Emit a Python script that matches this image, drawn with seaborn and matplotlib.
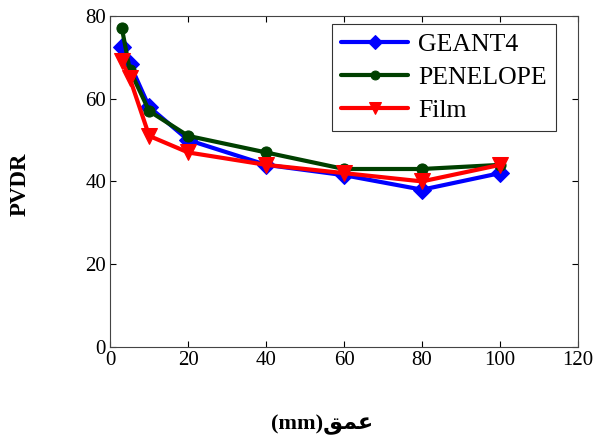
import numpy as np
import pandas as pd
import matplotlib
matplotlib.use("Agg")
import matplotlib.pyplot as plt
import seaborn as sns

depth = [3, 5, 10, 20, 40, 60, 80, 100]
geant4 = [72.5, 68.5, 58, 50, 44, 41.5, 38, 42]
penelope = [77, 67, 57, 51, 47, 43, 43, 44]
film = [69, 65, 51, 47, 44, 42, 40, 44]

x_ticks = [0, 20, 40, 60, 80, 100, 120]
y_ticks = [0, 20, 40, 60, 80]

sns.set_theme(style="white")
plt.rcParams['font.family'] = ['Liberation Serif', 'DejaVu Sans']
plt.rcParams['xtick.direction'] = 'in'
plt.rcParams['ytick.direction'] = 'in'
plt.rcParams['text.color'] = 'black'
plt.rcParams['axes.labelcolor'] = 'black'

fig = plt.figure(figsize=(5.99, 4.43), dpi=100)
ax = fig.add_axes([0.184, 0.217, 0.781, 0.747])

series = [("GEANT4", geant4, "#0000ff", "D", 9),
          ("PENELOPE", penelope, "#004000", "o", 8),
          ("Film", film, "#ff0000", "v", 11)]
for name, vals, col, mk, ms in series:
    sns.lineplot(x=depth, y=vals, ax=ax, color=col, marker=mk, markersize=ms,
                 linewidth=3, markeredgecolor=col, label=name)

ax.set_xlim(0, 120)
ax.set_ylim(0, 80)
ax.set_xticks(x_ticks)
ax.set_yticks(y_ticks)
ax.tick_params(labelsize=15, length=4, color="black", labelcolor="black",
               top=True, right=True, bottom=True, left=True, width=0.8, pad=3)
for s in ax.spines.values():
    s.set_color("#444444")
    s.set_linewidth(0.8)

ax.set_ylabel("PVDR", fontsize=16.5, fontweight="bold")
ax.yaxis.set_label_coords(-0.17, 0.49)
ax.set_xlabel("(mm)\ufed6\ufee4\ufecb", fontsize=16, fontweight="bold")
ax.xaxis.set_label_coords(0.453, -0.205)

leg = ax.legend(loc="upper right", fontsize=18.5, frameon=True, fancybox=False,
                edgecolor="black", handlelength=2.6, borderpad=0.35,
                labelspacing=0.4, handletextpad=0.4, markerscale=0.8,
                borderaxespad=0, bbox_to_anchor=(0.953, 0.976))
leg.get_frame().set_linewidth(0.8)
for t in leg.get_texts():
    t.set_color("black")

fig.savefig("out.png", dpi=100)
